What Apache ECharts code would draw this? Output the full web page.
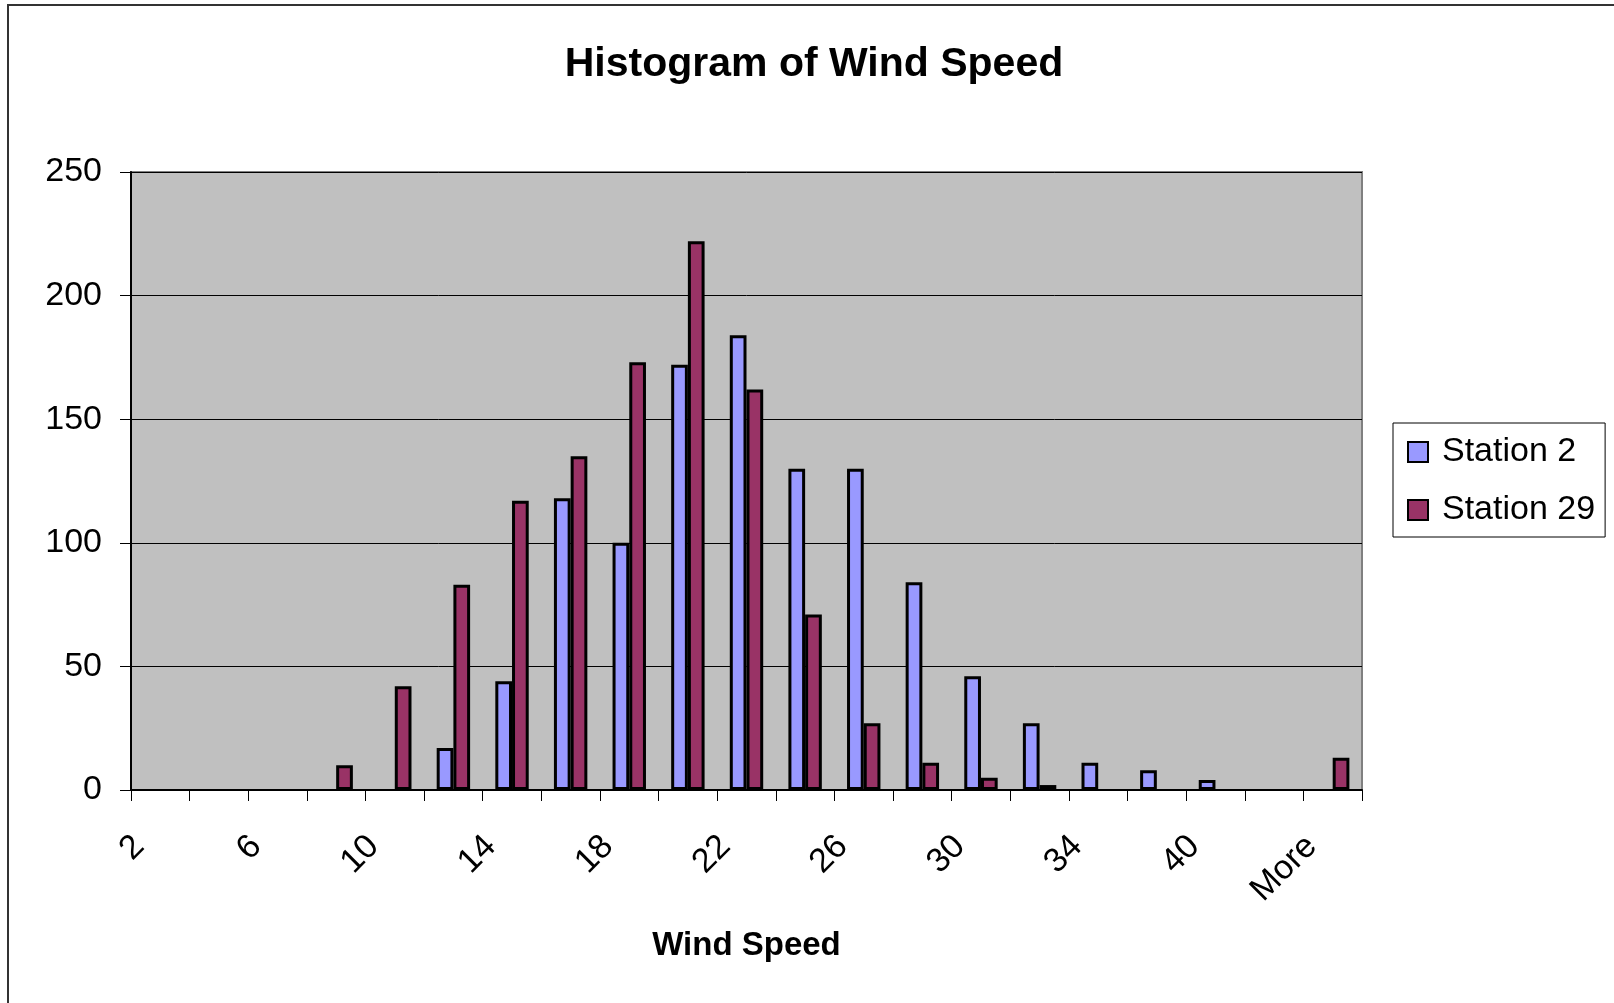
<!DOCTYPE html>
<html>
<head>
<meta charset="utf-8">
<title>Histogram of Wind Speed</title>
<script src="https://cdn.jsdelivr.net/npm/echarts@6/dist/echarts.min.js"></script>
<style>
  html, body { margin: 0; padding: 0; background: #fff; }
  #myChart { width: 1614px; height: 1003px; }
</style>
</head>
<body>
<div id="myChart"></div>
<script>
// bins (only every other one is labelled, like the excel sheet)
var bins = ['2', '4', '6', '8', '10', '12', '14', '16', '18', '20', '22',
            '24', '26', '28', '30', '32', '34', '37', '40', '43', 'More'];
var station2 = [0, 0, 0, 0, 0, 17, 44, 118, 100, 172, 184,
                130, 130, 84, 46, 27, 11, 8, 4, 0, 0];
var station29 = [0, 0, 0, 10, 42, 83, 117, 135, 173, 222, 162,
                 71, 27, 11, 5, 2, 0, 0, 0, 0, 13];
var yTicks = [0, 50, 100, 150, 200, 250];

var font = 'Liberation Sans, Arial, sans-serif';
var myChart = echarts.init(document.getElementById('myChart'));

// empty bins draw nothing in excel, so skip the zero bars
function noZero(arr) {
  return arr.map(function (v) { return v === 0 ? '-' : v; });
}

var option = {
  backgroundColor: '#fff',
  animation: false,
  textStyle: { fontFamily: font, color: '#000' },
  title: {
    text: 'Histogram of Wind Speed',
    left: 809,
    top: 39,
    textAlign: 'center',
    textStyle: { fontFamily: font, fontSize: 41, fontWeight: 'bold', color: '#000' }
  },
  legend: {
    orient: 'vertical',
    left: 1393,
    top: 423,
    padding: [12, 10, 10, 14],
    backgroundColor: '#fff',
    borderColor: '#000',
    borderWidth: 1,
    itemWidth: 20,
    itemHeight: 20,
    itemGap: 24,
    icon: 'rect',
    textStyle: { fontFamily: font, fontSize: 34, color: '#000', padding: [0, 0, 0, 9] },
    data: ['Station 2', 'Station 29']
  },
  grid: {
    left: 131,
    top: 172,
    width: 1231,
    height: 618,
    show: true,
    backgroundColor: '#C0C0C0',
    borderColor: '#808080',
    borderWidth: 2
  },
  xAxis: {
    type: 'category',
    data: bins,
    boundaryGap: true,
    name: 'Wind Speed',
    nameLocation: 'middle',
    nameGap: 139,
    nameTextStyle: { fontFamily: font, fontSize: 33, fontWeight: 'bold', color: '#000' },
    axisLine: { lineStyle: { color: '#000', width: 2 } },
    axisTick: { show: true, interval: 0, length: 11, lineStyle: { color: '#000', width: 1 } },
    axisLabel: {
      interval: 1,
      rotate: 45,
      margin: 30,
      padding: [0, 30, 0, 0],
      fontFamily: font,
      fontSize: 34,
      color: '#000'
    },
    splitLine: { show: false }
  },
  yAxis: {
    type: 'value',
    min: yTicks[0],
    max: yTicks[yTicks.length - 1],
    interval: 50,
    axisLine: { show: true, lineStyle: { color: '#000', width: 2 } },
    axisTick: { show: true, length: 11, lineStyle: { color: '#000', width: 1 } },
    axisLabel: { margin: 29, fontFamily: font, fontSize: 34, color: '#000' },
    splitLine: { show: true, lineStyle: { color: '#000', width: 1 } }
  },
  series: [
    {
      name: 'Station 2',
      type: 'bar',
      data: noZero(station2),
      barGap: '0%',
      barCategoryGap: '43%',
      itemStyle: { color: '#9999FF', borderColor: '#000', borderWidth: 3 }
    },
    {
      name: 'Station 29',
      type: 'bar',
      data: noZero(station29),
      barGap: '0%',
      barCategoryGap: '43%',
      itemStyle: { color: '#993366', borderColor: '#000', borderWidth: 3 }
    }
  ],
  graphic: [
    {
      // outer chart frame, right and bottom edges fall outside the picture
      type: 'rect',
      silent: true,
      shape: { x: 8, y: 5, width: 1800, height: 1200 },
      style: { fill: null, stroke: '#333', lineWidth: 2 }
    }
  ]
};

myChart.setOption(option);
</script>
</body>
</html>
